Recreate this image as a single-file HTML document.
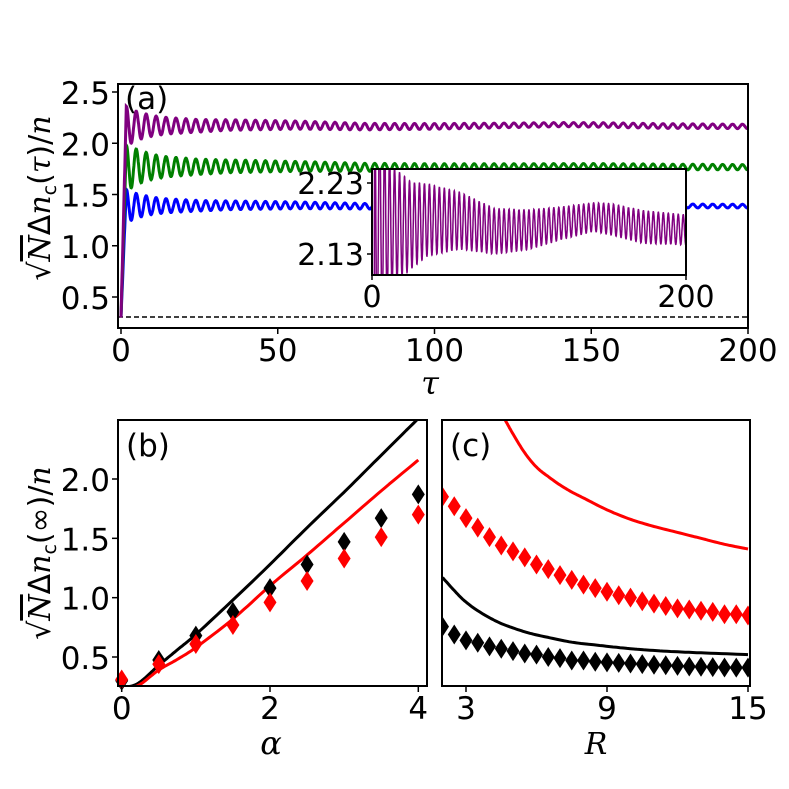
<!DOCTYPE html>
<html><head><meta charset="utf-8"><style>
html,body{margin:0;padding:0;background:#fff;overflow:hidden;width:789px;height:789px}
svg{display:block;position:absolute;left:0;top:0}
text{font-family:"DejaVu Sans","Liberation Sans",sans-serif;fill:#000}
.m{font-family:"DejaVu Serif","Liberation Serif",serif;font-style:italic}
</style></head><body>
<svg id="fig" width="789" height="789" viewBox="0 0 789 789" xmlns="http://www.w3.org/2000/svg">
<defs>
<clipPath id="clipA"><rect x="118" y="84" width="630" height="244"/></clipPath>
<clipPath id="clipI"><rect x="372" y="169" width="314" height="106"/></clipPath>
<clipPath id="clipB"><rect x="118" y="420" width="309" height="266"/></clipPath>
<clipPath id="clipC"><rect x="442" y="420" width="308" height="266"/></clipPath>
</defs>
<g id="gA"></g>
<g id="gB"></g>
<g id="gC"></g>
<text x="430" y="394" class="m" font-size="32" text-anchor="middle">τ</text>
<text x="271" y="754" class="m" font-size="32" text-anchor="middle">α</text>
<text x="596" y="754" class="m" font-size="30" text-anchor="middle">R</text>
<g transform="translate(50,198) rotate(-90)">
<text x="0" y="0" font-size="30" text-anchor="middle"><tspan>√</tspan><tspan class="m" text-decoration="overline">N</tspan><tspan>Δ</tspan><tspan class="m">n</tspan><tspan font-size="19" dy="6">c</tspan><tspan dy="-6">(</tspan><tspan class="m">τ</tspan><tspan>)/</tspan><tspan class="m">n</tspan></text>
</g>
<g transform="translate(50,553) rotate(-90)">
<text x="0" y="0" font-size="30" text-anchor="middle"><tspan>√</tspan><tspan class="m" text-decoration="overline">N</tspan><tspan>Δ</tspan><tspan class="m">n</tspan><tspan font-size="19" dy="6">c</tspan><tspan dy="-6">(∞)/</tspan><tspan class="m">n</tspan></text>
</g>
</svg>
<script>
// ---------- Panel (a) data ----------
const envT = [2,5,10,15,25,35,56,78,99,120,141,152,173,200];
const envAmp = [0.19,0.14,0.10,0.08,0.061,0.051,0.04,0.032,0.028,0.023,0.02,0.022,0.023,0.021];
const envMean = [2.17,2.17,2.17,2.17,2.17,2.178,2.177,2.162,2.164,2.173,2.182,2.179,2.168,2.164];
const seriesNames = ['purple','green','blue'];
const seriesColors = ['#800080','#008000','#0000ff'];
const seriesStart = [0.3,0.3,0.3];
const seriesPeak = [2.36,1.98,1.55];
const seriesMean = [2.17,1.77,1.39];
const seriesAmpScale = [1.0,1.1,1.0];
const period = 3.17;
const peakTime = 1.7;
const dashedLevel = 0.305;
const aXTicks = [0,50,100,150,200];
const aYTicks = [0.5,1.0,1.5,2.0,2.5];
const insetXTicks = [0,200];
const insetYTicks = [2.13,2.23];
// ---------- Panel (b) data ----------
const alphaPts = [0,0.5,1,1.5,2,2.5,3,3.5,4];
const bBlackPts = [0.30,0.475,0.68,0.88,1.08,1.28,1.47,1.67,1.87];
const bRedPts = [0.31,0.44,0.61,0.77,0.96,1.14,1.33,1.51,1.70];
const alphaLine = [0,0.1,0.25,0.5,0.75,1,1.5,2,2.5,3,3.5,4];
const bBlackLine = [0.25,0.25,0.29,0.43,0.56,0.69,0.98,1.28,1.59,1.89,2.20,2.51];
const bRedLine = [0.24,0.24,0.27,0.39,0.48,0.58,0.82,1.10,1.36,1.63,1.90,2.16];
const bXTicks = [0,2,4];
const bcYTicks = [0.5,1.0,1.5,2.0];
// ---------- Panel (c) data ----------
const rPts = [2,2.5,3,3.5,4,4.5,5,5.5,6,6.5,7,7.5,8,8.5,9,9.5,10,10.5,11,11.5,12,12.5,13,13.5,14,14.5,15];
const cRedPts = [1.85,1.77,1.67,1.59,1.51,1.44,1.39,1.34,1.28,1.24,1.19,1.15,1.11,1.08,1.05,1.02,1.0,0.97,0.95,0.93,0.91,0.90,0.89,0.88,0.86,0.86,0.85];
const cBlackPts = [0.756,0.69,0.64,0.62,0.59,0.57,0.55,0.53,0.52,0.50,0.49,0.47,0.47,0.46,0.455,0.45,0.445,0.44,0.435,0.43,0.425,0.42,0.418,0.415,0.412,0.41,0.41];
const rLine = [4.4,4.66,5,5.5,6,6.5,7,7.5,8,9,10,11,12,13,14,15];
const cRedLine = [2.6,2.5,2.38,2.22,2.10,2.02,1.95,1.89,1.84,1.74,1.66,1.60,1.55,1.50,1.45,1.41];
const rBlackLine = [2,2.5,2.9,3.5,4.3,5,5.72,6.5,7.5,8.56,10,11.4,13,15];
const cBlackLine = [1.17,1.06,0.98,0.89,0.80,0.745,0.70,0.665,0.625,0.60,0.57,0.55,0.535,0.52];
const cXTicks = [3,9,15];

const NS='http://www.w3.org/2000/svg';
function el(tag, attrs, parent){const e=document.createElementNS(NS,tag);for(const k in attrs)e.setAttribute(k,attrs[k]);parent.appendChild(e);return e;}
function lin(d0,d1,r0,r1){return v=>r0+(v-d0)/(d1-d0)*(r1-r0);}
function interp(xs,ys,x){if(x<=xs[0])return ys[0];for(let i=1;i<xs.length;i++){if(x<=xs[i]){const f=(x-xs[i-1])/(xs[i]-xs[i-1]);return ys[i-1]+f*(ys[i]-ys[i-1]);}}return ys[ys.length-1];}
function smoothPts(xs,ys,fx,fy){
  const out=[];
  for(let i=0;i<xs.length-1;i++){
    const x0=xs[Math.max(i-1,0)],y0=ys[Math.max(i-1,0)],x1=xs[i],y1=ys[i],x2=xs[i+1],y2=ys[i+1],x3=xs[Math.min(i+2,xs.length-1)],y3=ys[Math.min(i+2,xs.length-1)];
    for(let s=0;s<10;s++){const t=s/10,t2=t*t,t3=t2*t;
      const x=0.5*((2*x1)+(-x0+x2)*t+(2*x0-5*x1+4*x2-x3)*t2+(-x0+3*x1-3*x2+x3)*t3);
      const y=0.5*((2*y1)+(-y0+y2)*t+(2*y0-5*y1+4*y2-y3)*t2+(-y0+3*y1-3*y2+y3)*t3);
      out.push(fx(x).toFixed(1)+','+fy(y).toFixed(1));}
  }
  out.push(fx(xs[xs.length-1]).toFixed(1)+','+fy(ys[ys.length-1]).toFixed(1));
  return out.join(' ');
}

// ---- Panel A ----
const gA=document.getElementById('gA');
const ax=lin(0,200,121,748), ay=lin(0.5,2.5,297,92);
function series(i,t){
  if(t<=peakTime) return seriesStart[i]+(seriesPeak[i]-seriesStart[i])*t/peakTime;
  const A=interp(envT,envAmp,t)*seriesAmpScale[i];
  const A0=seriesPeak[i]-seriesMean[i];
  const a = Math.min(A0, A*(A0/0.19));
  const mean=seriesMean[i]+(interp(envT,envMean,t)-2.17)*(i===0?1:0.6);
  return mean + a*Math.cos(2*Math.PI*(t-peakTime)/period);
}
const dl=el('line',{x1:118,x2:748,y1:ay(dashedLevel),y2:ay(dashedLevel),stroke:'#000','stroke-width':1.4,'stroke-dasharray':'5,3'},gA);


for(let i=2;i>=0;i--){
  let pts=[];
  for(let t=0;t<=200;t+=0.1){pts.push(ax(t).toFixed(1)+','+ay(series(i,t)).toFixed(1));}
  const p=el('polyline',{points:pts.join(' '),fill:'none',stroke:seriesColors[i],'stroke-width':3,'clip-path':'url(#clipA)'},gA);
  
  
}
const ix=lin(0,200,372,686), iy=lin(2.13,2.23,254,183);
const ibg=el('rect',{x:372,y:169,width:314,height:106,fill:'#fff'},gA);


{
  let pts=[];
  for(let t=0;t<=200;t+=0.05){pts.push(ix(t).toFixed(1)+','+iy(series(0,t)).toFixed(1));}
  const p=el('polyline',{points:pts.join(' '),fill:'none',stroke:'#800080','stroke-width':1.5,'clip-path':'url(#clipI)'},gA);
  
  
}
const ibox=el('rect',{x:372,y:169,width:314,height:106,fill:'none',stroke:'#000','stroke-width':2},gA);


insetXTicks.forEach(v=>{
  el('line',{x1:ix(v),x2:ix(v),y1:275,y2:280,stroke:'#000','stroke-width':1.5},gA);
  const t=el('text',{x:ix(v),y:307,'font-size':30,'text-anchor':'middle'},gA);t.textContent=v;
  
  
});
insetYTicks.forEach(v=>{
  el('line',{x1:367,x2:372,y1:iy(v),y2:iy(v),stroke:'#000','stroke-width':1.5},gA);
  const t=el('text',{x:364,y:iy(v)+11,'font-size':30,'text-anchor':'end'},gA);t.textContent=v.toFixed(2);
  
  
});
const aframe=el('rect',{x:118,y:84,width:630,height:244,fill:'none',stroke:'#000','stroke-width':2},gA);


aXTicks.forEach(v=>{
  el('line',{x1:ax(v),x2:ax(v),y1:328,y2:334,stroke:'#000','stroke-width':1.5},gA);
  const t=el('text',{x:ax(v),y:361,'font-size':31,'text-anchor':'middle'},gA);t.textContent=v;
  
  
});
aYTicks.forEach(v=>{
  el('line',{x1:112,x2:118,y1:ay(v),y2:ay(v),stroke:'#000','stroke-width':1.5},gA);
  const t=el('text',{x:110,y:ay(v)+12,'font-size':31,'text-anchor':'end'},gA);t.textContent=v.toFixed(1);
  
  
});
const la=el('text',{x:125,y:109,'font-size':31},gA);la.textContent='(a)';



// ---- Panel B ----
const gB=document.getElementById('gB');
const bx=lin(0,4,121.7,418.3), by=lin(0.5,2.0,657,479);
function diamond(g,x,y,color,name){
  const d=el('polygon',{points:`${x},${y-10} ${x+6.5},${y} ${x},${y+10} ${x-6.5},${y}`,fill:color},g);
  
  
}
function line(g,xs,ys,fx,fy,color,clip,name){
  const p=el('polyline',{points:smoothPts(xs,ys,fx,fy),fill:'none',stroke:color,'stroke-width':3,'clip-path':clip,'stroke-linejoin':'round'},g);
  
  
}
line(gB,alphaLine,bBlackLine,bx,by,'#000','url(#clipB)','theory-line-black');
line(gB,alphaLine,bRedLine,bx,by,'#f00','url(#clipB)','theory-line-red');
alphaPts.forEach((a,i)=>{diamond(gB,bx(a),by(bBlackPts[i]),'#000','marker-black');});
alphaPts.forEach((a,i)=>{diamond(gB,bx(a),by(bRedPts[i]),'#f00','marker-red');});
const bframe=el('rect',{x:118,y:420,width:309,height:266,fill:'none',stroke:'#000','stroke-width':2},gB);


bXTicks.forEach(v=>{
  el('line',{x1:bx(v),x2:bx(v),y1:686,y2:692,stroke:'#000','stroke-width':1.5},gB);
  const t=el('text',{x:bx(v),y:719,'font-size':31,'text-anchor':'middle'},gB);t.textContent=v;
  
  
});
bcYTicks.forEach(v=>{
  el('line',{x1:112,x2:118,y1:by(v),y2:by(v),stroke:'#000','stroke-width':1.5},gB);
  const t=el('text',{x:110,y:by(v)+12,'font-size':31,'text-anchor':'end'},gB);t.textContent=v.toFixed(1);
  
  
});
const lb=el('text',{x:126,y:456,'font-size':31},gB);lb.textContent='(b)';



// ---- Panel C ----
const gC=document.getElementById('gC');
const cx=lin(3,15,466,748), cy=by;
line(gC,rLine,cRedLine,cx,cy,'#f00','url(#clipC)','theory-line-red-c');
line(gC,rBlackLine,cBlackLine,cx,cy,'#000','url(#clipC)','theory-line-black-c');
const gCm=el('g',{'clip-path':'url(#clipC)'},gC);
rPts.forEach((r,i)=>{diamond(gCm,cx(r),cy(cRedPts[i]),'#f00','marker-red-c');});
rPts.forEach((r,i)=>{diamond(gCm,cx(r),cy(cBlackPts[i]),'#000','marker-black-c');});
const cframe=el('rect',{x:442,y:420,width:308,height:266,fill:'none',stroke:'#000','stroke-width':2},gC);


cXTicks.forEach(v=>{
  el('line',{x1:cx(v),x2:cx(v),y1:686,y2:692,stroke:'#000','stroke-width':1.5},gC);
  const t=el('text',{x:cx(v),y:719,'font-size':31,'text-anchor':'middle'},gC);t.textContent=v;
  
  
});
const lc=el('text',{x:450,y:456,'font-size':31},gC);lc.textContent='(c)';


</script>
</body></html>
